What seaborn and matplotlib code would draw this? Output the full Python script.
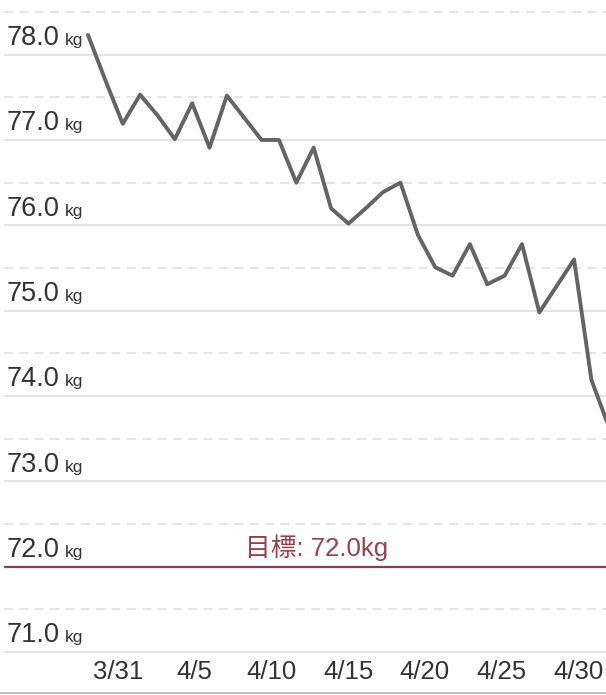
import numpy as np
import matplotlib
matplotlib.use('Agg')
import matplotlib.pyplot as plt
from matplotlib.lines import Line2D
import seaborn as sns

# daily weight readings (kg), one per recorded day
weights = [78.23, 77.7, 77.19, 77.53, 77.29, 77.01, 77.43, 76.91, 77.52, 77.26,
           77.0, 77.0, 76.50, 76.91, 76.20, 76.02, 76.2, 76.39, 76.50, 75.89,
           75.51, 75.41, 75.78, 75.31, 75.41, 75.78, 74.98, 75.29, 75.60, 74.19,
           73.64]
x_labels = ['3/31', '4/5', '4/10', '4/15', '4/20', '4/25', '4/30']
y_levels = [71, 72, 73, 74, 75, 76, 77, 78]
goal = 72.0

sns.set_theme(style='white')
plt.rcParams['font.family'] = ['Liberation Sans', 'Noto Sans CJK JP', 'DejaVu Sans']

fig = plt.figure(figsize=(6.06, 6.95), dpi=100)
ax = fig.add_axes([4 / 606, 42 / 695, 602 / 606, 653 / 695])

idx = np.arange(len(weights))

# grid: solid on whole kg, dashed on half kg
grid_col = '#e2e2e2'
for v in y_levels:
    ax.axhline(v, color=grid_col, lw=1.3, zorder=0)
    ax.axhline(v + 0.5, color=grid_col, lw=1.3, ls=(0, (5, 3.5)), zorder=0)

# goal line
ax.axhline(goal, color='#86404a', lw=1.6, zorder=1)
ax.annotate(f'目標: {goal:.1f}kg', xy=(0.52, goal), xycoords=('axes fraction', 'data'),
            xytext=(0, 8), textcoords='offset points', ha='center', va='baseline',
            fontsize=18.5, color='#98404c')

sns.lineplot(x=idx, y=weights, ax=ax, color='#646464', lw=2.8, zorder=3)

# y labels sit just above their gridline
for v in y_levels:
    t = ax.annotate(f'{v:.1f}', xy=(0, v), xycoords=('axes fraction', 'data'),
                    xytext=(2, 7), textcoords='offset points', ha='left', va='baseline',
                    fontsize=19.5, color='#333333')
    ax.annotate('kg', xy=(1, v), xycoords=(t, 'data'), xytext=(4, 7),
                textcoords='offset points', ha='left', va='baseline',
                fontsize=12.5, color='#333333')

tick_pos = np.linspace(1.73, 28.23, len(x_labels))
ax.set_xticks(tick_pos, x_labels)
ax.set_yticks([])
ax.tick_params(axis='x', length=0, pad=5, labelsize=18.5, labelcolor='#333333')
ax.set_xlim(-4.84, 29.84)
ax.set_ylim(70.99, 78.64)
ax.set_xlabel('')
ax.set_ylabel('')
sns.despine(ax=ax, left=True, bottom=True)

fig.add_artist(Line2D([0, 1], [2 / 695, 2 / 695], transform=fig.transFigure,
                      color='#b8b8b8', lw=1.2))

fig.savefig('out.png', dpi=100)
